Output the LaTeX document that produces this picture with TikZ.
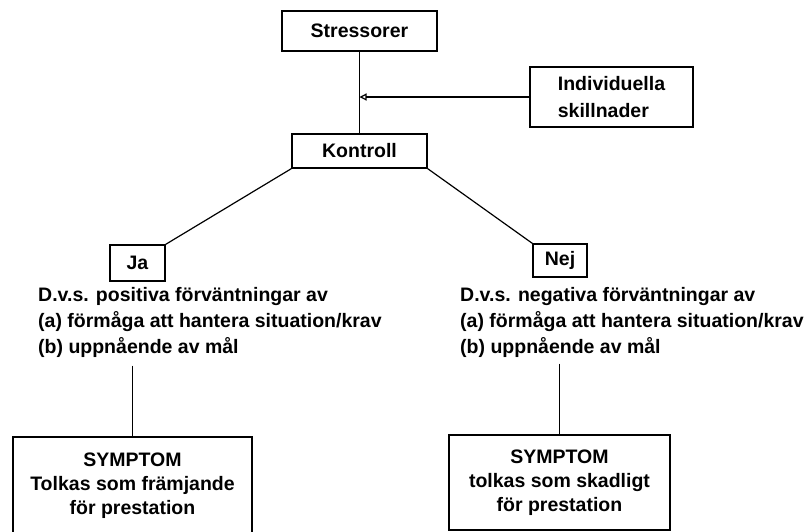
\documentclass[tikz,border=0pt]{standalone}
\usepackage{fontspec}
\setmainfont{Liberation Sans}
\usetikzlibrary{arrows.meta}
\usetikzlibrary{positioning}

\begin{document}
\begin{tikzpicture}[x=1pt,y=-1pt]
\tikzset{flowbox/.style={rectangle,draw,line width=1.2pt,inner sep=0pt,align=center,font=\fontsize{19.5}{24}\selectfont\bfseries}}
\tikzset{flowtext/.style={inner sep=0pt,align=left,font=\fontsize{19.5}{26}\selectfont\bfseries}}
\useasboundingbox (0,0) rectangle (812,531);
\node[flowbox,minimum width=155,minimum height=40](stress) at (359.5,31){Stressorer};
\node[flowbox,minimum width=135,minimum height=34](kontroll) at (359.5,151){Kontroll};
\draw[line width=1.2pt](stress.south) -- (kontroll.north);
\node[flowbox,align=left,font=\fontsize{19.5}{27}\selectfont\bfseries,minimum width=163,minimum height=60](indiv) at (611.5,97){Individuella\\skillnader};
\draw[line width=1.2pt,-{Triangle[open,length=7pt,width=7pt]}](indiv.west) -- (indiv.west -| stress.south);
\node[flowbox,minimum width=55,minimum height=36](ja) at (137.5,263){Ja};
\draw[line width=1.2pt](kontroll.south west) -- (ja.north east);
\node[flowbox,minimum width=54,minimum height=33](nej) at (560,260.5){Nej};
\draw[line width=1.2pt](kontroll.south east) -- (nej.north west);
\node[flowtext,anchor=north west](postxt) at (38,287){D.v.s. positiva förväntningar av\\(a) förmåga att hantera situation/krav\\(b) uppnående av mål};
\node[flowtext,anchor=north west](negtxt) at (460,287){D.v.s. negativa förväntningar av\\(a) förmåga att hantera situation/krav\\(b) uppnående av mål};
\node[flowbox,minimum width=239,minimum height=98](sympos) at (132.5,486){SYMPTOM\\Tolkas som främjande\\för prestation};
\node[flowbox,minimum width=221,minimum height=95](symneg) at (559.5,482.5){SYMPTOM\\tolkas som skadligt\\för prestation};
\draw[line width=1.2pt,shorten <=8pt](postxt.south -| sympos.north) -- (sympos.north);
\draw[line width=1.2pt,shorten <=6pt](negtxt.south -| symneg.north) -- (symneg.north);
\end{tikzpicture}
\end{document}
